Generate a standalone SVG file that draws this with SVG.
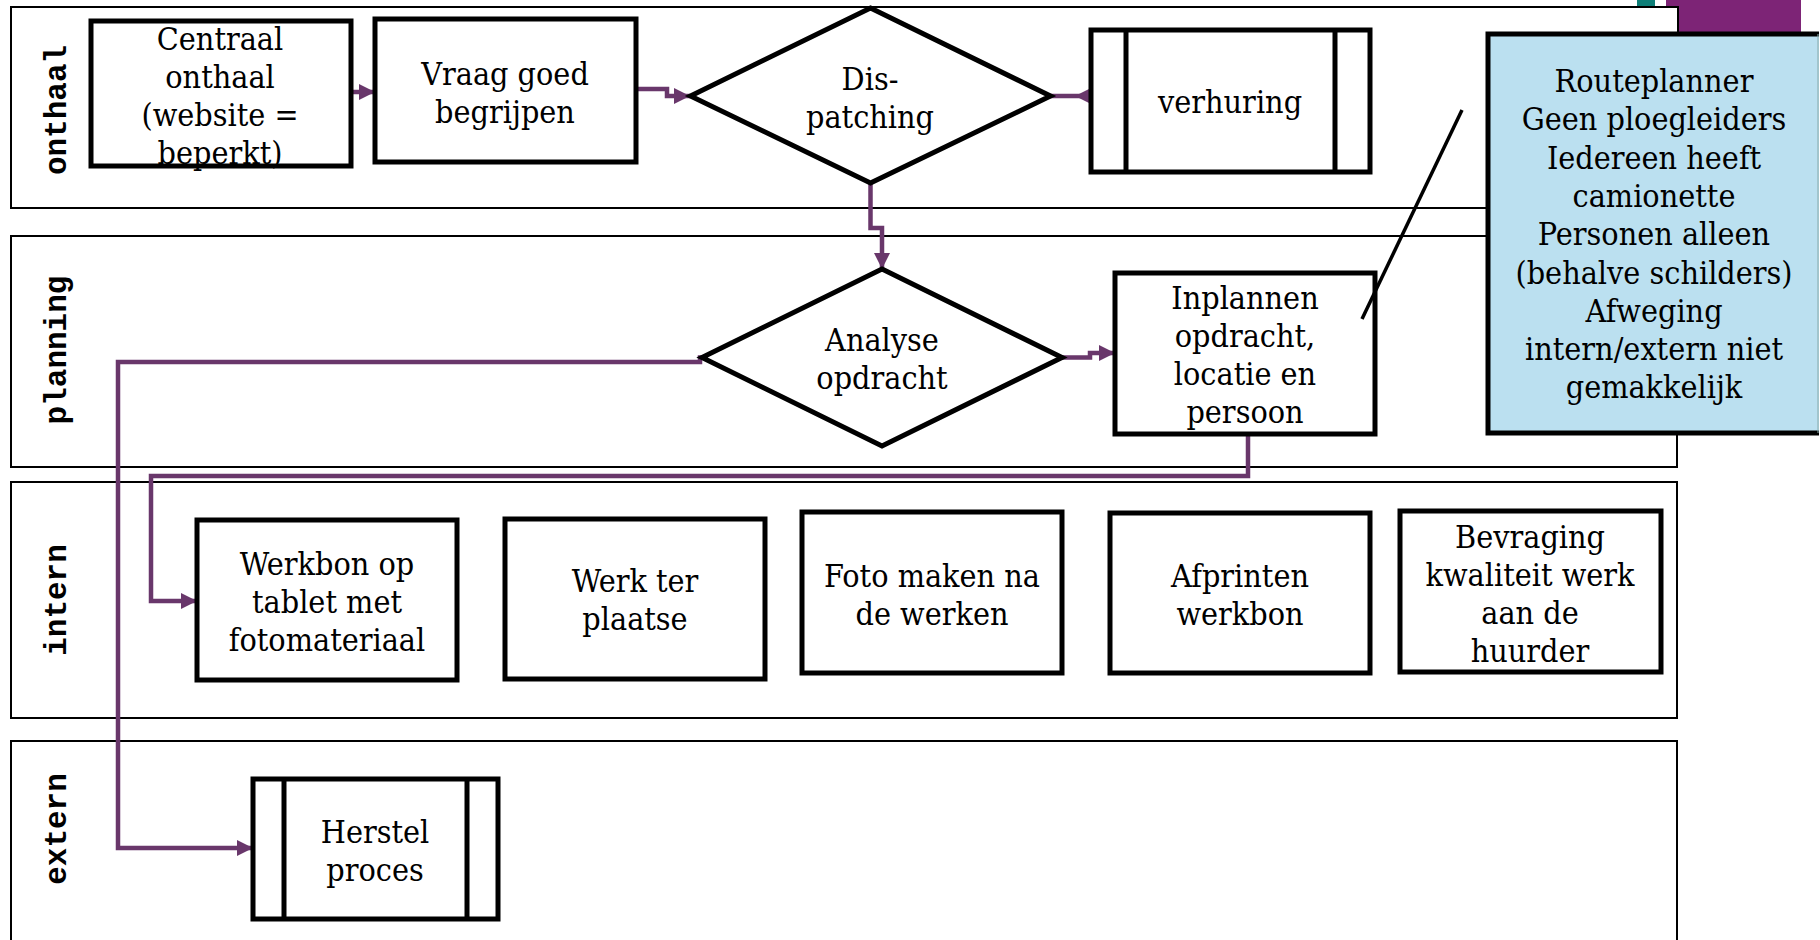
<svg xmlns="http://www.w3.org/2000/svg" width="1820" height="940" viewBox="0 0 1820 940">
<style>
.lane{fill:#fff;stroke:#000;stroke-width:2}
.lbl{font-family:"Liberation Mono",monospace;font-weight:bold;font-size:31px;fill:#000;text-anchor:middle}
.box{fill:#fff;stroke:#000;stroke-width:5}
.inner{stroke:#000;stroke-width:5;fill:none}
.t{font-family:"DejaVu Serif Condensed","DejaVu Serif",serif;font-size:32px;fill:#000;text-anchor:middle}
.con{fill:none;stroke:#69376B;stroke-width:4.5;stroke-linejoin:miter}
.ah{fill:#69376B}
</style>
<defs>
<marker id="arr" viewBox="0 0 10 10" refX="10" refY="5" markerWidth="17" markerHeight="16" markerUnits="userSpaceOnUse" orient="auto">
<path d="M0,0 L10,5 L0,10 z" fill="#69376B"/>
</marker>
</defs>
<rect width="1820" height="940" fill="#fff"/>
<g id="decor">
<rect x="1637" y="0" width="18" height="7" fill="#0E7F78"/>
<rect x="1666" y="0" width="135" height="34" fill="#7D2476"/>
</g>
<g id="lanes">
<rect class="lane" x="11" y="7" width="1667" height="201"/>
<rect class="lane" x="11" y="236" width="1666" height="231"/>
<rect class="lane" x="11" y="482" width="1666" height="236"/>
<rect class="lane" x="11" y="741" width="1666" height="210"/>
<text class="lbl" transform="translate(66,110) rotate(-90)">onthaal</text>
<text class="lbl" transform="translate(66,350) rotate(-90)">planning</text>
<text class="lbl" transform="translate(66,600) rotate(-90)">intern</text>
<text class="lbl" transform="translate(66,829) rotate(-90)">extern</text>
</g>
<g id="connectors">
<path class="con" d="M350,92 L375,92" marker-end="url(#arr)"/>
<path class="con" d="M636,89 L667,89 L667,96 L690,96" marker-end="url(#arr)"/>
<path class="con" d="M1050,96 L1102,96"/>
<polygon class="ah" points="1075,96 1093,87 1093,105"/>
<path class="con" d="M870.5,183 L870.5,228 L882,228 L882,269" marker-end="url(#arr)"/>
<path class="con" d="M1062,357.5 L1090,357.5 L1090,353 L1115,353" marker-end="url(#arr)"/>
<path class="con" d="M702,357.5 L700,357.5 L700,362 L118,362 L118,848 L253,848" marker-end="url(#arr)"/>
<path class="con" d="M1248,434 L1248,476 L151,476 L151,601 L197,601" marker-end="url(#arr)"/>
</g>
<g id="n-centraal">
<rect class="box" x="91" y="21" width="260" height="145"/>
<text class="t"><tspan x="220" y="50">Centraal</tspan><tspan x="220" y="88">onthaal</tspan><tspan x="220" y="126">(website =</tspan><tspan x="220" y="164">beperkt)</tspan></text>
</g>
<g id="n-vraag">
<rect class="box" x="375" y="19" width="261" height="143"/>
<text class="t"><tspan x="505" y="85">Vraag goed</tspan><tspan x="505" y="123">begrijpen</tspan></text>
</g>
<g id="n-dispatching">
<polygon class="box" points="870.5,8 1050.5,96 870.5,183 690.5,96"/>
<text class="t"><tspan x="870" y="90">Dis-</tspan><tspan x="870" y="128">patching</tspan></text>
</g>
<g id="n-verhuring">
<rect class="box" x="1091" y="30" width="279" height="142"/>
<path class="inner" d="M1126,30 V172 M1335,30 V172"/>
<text class="t" x="1230" y="113">verhuring</text>
</g>
<g id="n-analyse">
<polygon class="box" points="882,269 1062,357.5 882,446 702,357.5"/>
<text class="t"><tspan x="882" y="351">Analyse</tspan><tspan x="882" y="389">opdracht</tspan></text>
</g>
<g id="n-inplannen">
<rect class="box" x="1115" y="273" width="260" height="161"/>
<text class="t"><tspan x="1245" y="309">Inplannen</tspan><tspan x="1245" y="347">opdracht,</tspan><tspan x="1245" y="385">locatie en</tspan><tspan x="1245" y="423">persoon</tspan></text>
</g>
<g id="n-werkbon">
<rect class="box" x="197" y="520" width="260" height="160"/>
<text class="t"><tspan x="327" y="575">Werkbon op</tspan><tspan x="327" y="613">tablet met</tspan><tspan x="327" y="651">fotomateriaal</tspan></text>
</g>
<g id="n-werk">
<rect class="box" x="505" y="519" width="260" height="160"/>
<text class="t"><tspan x="635" y="592">Werk ter</tspan><tspan x="635" y="630">plaatse</tspan></text>
</g>
<g id="n-foto">
<rect class="box" x="802" y="512" width="260" height="161"/>
<text class="t"><tspan x="932" y="587">Foto maken na</tspan><tspan x="932" y="625">de werken</tspan></text>
</g>
<g id="n-afprinten">
<rect class="box" x="1110" y="513" width="260" height="160"/>
<text class="t"><tspan x="1240" y="587">Afprinten</tspan><tspan x="1240" y="625">werkbon</tspan></text>
</g>
<g id="n-bevraging">
<rect class="box" x="1400" y="511" width="261" height="161"/>
<text class="t"><tspan x="1530" y="548">Bevraging</tspan><tspan x="1530" y="586">kwaliteit werk</tspan><tspan x="1530" y="624">aan de</tspan><tspan x="1530" y="662">huurder</tspan></text>
</g>
<g id="n-herstel">
<rect class="box" x="253" y="779" width="245" height="140"/>
<path class="inner" d="M284,779 V919 M467,779 V919"/>
<text class="t"><tspan x="375" y="843">Herstel</tspan><tspan x="375" y="881">proces</tspan></text>
</g>
<g id="n-note">
<rect x="1488" y="34" width="331" height="399" fill="#BBE0F0"/>
<path d="M1819,34 H1488 V433 H1819" fill="none" stroke="#000" stroke-width="5"/>
<path d="M1818,34 V433" stroke="#8AA" stroke-width="1"/>
<text class="t"><tspan x="1654" y="92">Routeplanner</tspan><tspan x="1654" y="130">Geen ploegleiders</tspan><tspan x="1654" y="169">Iedereen heeft</tspan><tspan x="1654" y="207">camionette</tspan><tspan x="1654" y="245">Personen alleen</tspan><tspan x="1654" y="284">(behalve schilders)</tspan><tspan x="1654" y="322">Afweging</tspan><tspan x="1654" y="360">intern/extern niet</tspan><tspan x="1654" y="398">gemakkelijk</tspan></text>
</g>
<g id="callout">
<line x1="1462" y1="110" x2="1362" y2="319" stroke="#000" stroke-width="3.5"/>
</g>
</svg>
